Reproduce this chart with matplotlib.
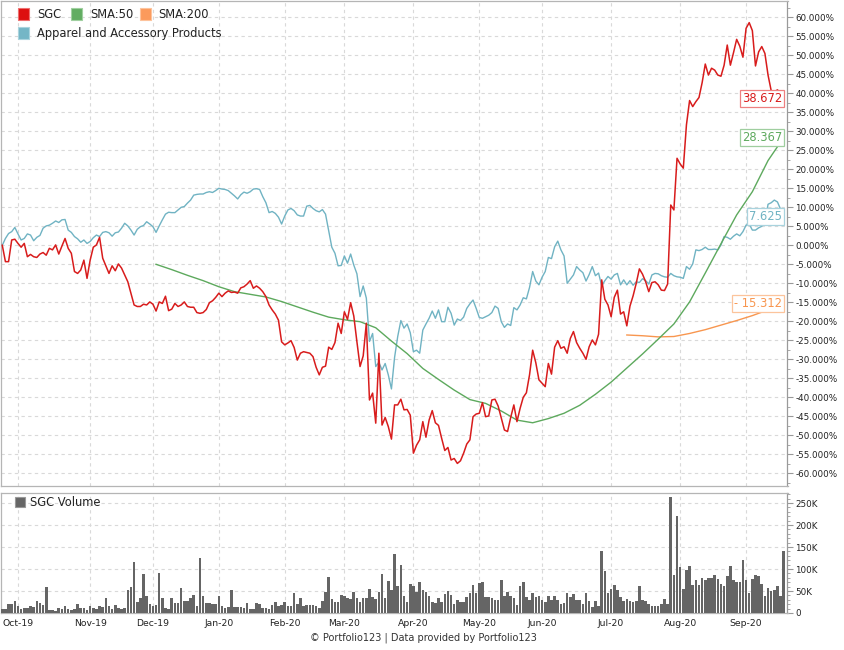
import matplotlib

matplotlib.use("Agg")
import matplotlib.pyplot as plt
import pandas as pd
from matplotlib.patches import Rectangle
from matplotlib.ticker import FuncFormatter, MultipleLocator

W, H = 845, 650

# trading days shown (Sep 24 2019 .. Sep 18 2020, NYSE holidays removed)
HOLIDAYS = ["2019-11-28", "2019-12-25", "2020-01-01", "2020-01-20", "2020-02-17",
            "2020-04-10", "2020-05-25", "2020-07-03", "2020-09-07"]

# SGC relative performance, % since start
sgc = [
    0.0, -4.3, -4.3, 1.4, 1.6, 0.5, -0.5, 0.5, -3.0, -2.4,
    -3.0, -3.2, -2.3, -1.9, -2.6, -0.8, -1.2, 0.1, -2.3, -0.2,
    1.8, -0.8, -2.1, -6.9, -7.4, -6.5, -3.9, -8.7, -3.9, -0.5,
    0.1, 2.1, -3.4, -5.4, -7.4, -5.4, -6.7, -4.9, -6.0, -7.8,
    -9.6, -12.6, -15.7, -16.1, -16.1, -15.5, -15.7, -14.9, -15.5, -17.3,
    -14.9, -15.3, -13.4, -17.2, -16.8, -15.3, -16.1, -15.7, -14.9, -16.1,
    -16.3, -16.3, -17.7, -17.9, -17.7, -16.9, -15.1, -14.6, -13.7, -12.6,
    -13.5, -12.6, -12.0, -12.4, -12.3, -12.6, -11.2, -10.9, -10.2, -9.3,
    -11.3, -10.7, -11.3, -12.2, -13.5, -15.7, -17.0, -18.1, -19.7, -25.4,
    -26.2, -25.7, -25.1, -26.9, -30.2, -28.4, -28.0, -28.2, -28.4, -29.3,
    -32.1, -34.1, -32.1, -31.8, -26.8, -27.4, -25.6, -20.5, -23.2, -17.5,
    -19.5, -15.1, -18.6, -25.4, -31.9, -29.1, -20.5, -40.7, -38.9, -46.8,
    -28.4, -47.3, -45.3, -47.7, -51.0, -42.0, -42.0, -40.5, -43.3, -43.2,
    -44.7, -54.7, -52.6, -51.2, -46.4, -50.5, -46.0, -43.5, -46.7, -47.4,
    -50.8, -54.0, -53.2, -56.5, -56.1, -57.4, -56.7, -54.7, -52.3, -51.2,
    -45.1, -44.4, -44.2, -41.4, -45.1, -44.9, -40.7, -40.5, -42.3, -45.5,
    -48.6, -49.0, -45.3, -42.0, -46.4, -42.9, -40.0, -38.8, -34.1, -27.6,
    -30.9, -35.4, -36.3, -37.2, -31.1, -33.9, -26.8, -25.1, -27.1, -26.7,
    -28.4, -24.5, -22.7, -25.6, -27.1, -28.4, -30.0, -26.7, -24.9, -26.2,
    -23.4, -9.1, -14.2, -15.7, -18.8, -13.7, -11.8, -18.1, -17.5, -21.2,
    -16.0, -13.3, -10.0, -6.2, -7.6, -9.6, -12.2, -9.8, -9.6, -10.4,
    -11.8, -11.9, -10.2, 10.6, 9.3, 22.9, 21.4, 20.3, 31.7, 38.1,
    36.5, 37.8, 38.9, 42.8, 47.7, 44.8, 46.6, 46.1, 44.8, 44.5,
    47.4, 52.7, 47.4, 50.7, 54.2, 52.4, 49.5, 57.1, 58.6, 56.5,
    47.2, 50.9, 52.3, 50.5, 44.8, 40.7, 40.4, 40.9, 40.0, 36.6,
]

# Apparel and Accessory Products industry, % since start
industry = [
    0.0, 1.8, 3.1, 3.6, 4.7, 3.0, 1.4, 1.8, 3.0, 2.7,
    1.2, 2.1, 2.6, 4.5, 5.1, 5.3, 5.8, 6.4, 6.0, 6.7,
    6.8, 4.0, 3.4, 2.3, 1.7, 0.8, 1.4, 0.5, 1.0, 2.0,
    2.7, 2.3, 3.4, 3.6, 3.3, 2.4, 3.3, 3.5, 4.5, 5.8,
    5.1, 4.0, 2.7, 4.2, 4.9, 5.2, 6.2, 5.6, 4.9, 3.4,
    5.1, 6.7, 8.2, 8.7, 8.6, 8.6, 9.3, 10.0, 10.2, 11.1,
    11.9, 13.2, 13.4, 13.5, 13.5, 13.9, 14.1, 13.9, 14.4, 15.0,
    14.8, 14.7, 14.4, 13.7, 13.0, 12.2, 13.3, 14.0, 13.7, 14.1,
    14.8, 14.9, 14.7, 12.8, 11.2, 8.6, 8.9, 8.4, 7.4, 5.6,
    7.7, 9.3, 9.7, 9.1, 8.0, 7.7, 7.7, 10.3, 10.5, 9.7,
    9.1, 8.8, 9.4, 8.2, 3.9, -0.5, -2.1, -5.4, -5.3, -2.8,
    -4.7, -2.3, -5.2, -7.5, -13.5, -10.7, -13.9, -25.3, -23.2, -31.9,
    -30.8, -32.8, -31.1, -34.1, -37.8, -29.5, -24.0, -19.8, -21.8, -20.7,
    -23.0, -28.0, -27.6, -28.4, -22.3, -20.7, -19.2, -17.3, -19.2, -17.0,
    -20.1, -20.1, -16.3, -17.9, -21.0, -19.4, -19.8, -18.9, -16.6, -15.4,
    -14.4, -16.6, -19.0, -19.2, -18.8, -18.4, -17.7, -16.0, -16.6, -20.1,
    -21.6, -20.7, -21.1, -16.4, -17.0, -15.7, -13.8, -14.1, -11.1, -6.9,
    -9.4, -10.4, -8.4, -6.9, -3.2, -3.5, -0.4, 1.1, -1.2, -2.8,
    -10.0, -8.9, -7.8, -5.6, -6.5, -7.2, -9.4, -7.7, -5.6, -8.0,
    -7.3, -10.7, -9.3, -8.2, -8.9, -7.8, -7.4, -10.4, -9.1, -10.4,
    -9.3, -10.5, -9.6, -9.8, -8.8, -9.3, -10.2, -7.8, -7.4, -7.5,
    -8.0, -8.3, -8.4, -7.4, -8.0, -8.3, -8.4, -8.7, -5.6, -6.3,
    -4.9, -1.2, -1.4, -1.1, -0.5, -1.1, -1.1, -1.0, -1.2, 0.1,
    2.3, 2.1, 1.6, 2.4, 3.0, 2.5, 3.6, 5.3, 5.6, 4.0,
    4.0, 4.6, 5.0, 6.0, 10.8, 11.2, 11.9, 11.4, 9.5, 7.6,
]

# moving averages, one value every 5th trading day ending on the last day
sma50 = [
    -5.0, -6.4, -7.9, -9.3, -10.9, -12.2, -12.9, -13.6, -14.8, -16.2,
    -17.6, -18.9, -19.6, -20.1, -21.7, -25.2, -28.5, -32.4, -35.3, -38.1,
    -40.6, -41.6, -43.6, -46.0, -46.7, -45.6, -44.2, -42.1, -39.2, -36.0,
    -32.3, -28.6, -24.7, -20.7, -14.9, -7.3, 0.4, 8.0, 14.1, 22.3,
    28.367,
]
sma200 = [-23.6, -23.8, -24.1, -24.0, -23.2, -22.2, -21.0, -19.8, -18.5, -17.0, -15.312]

# SGC daily volume, thousands of shares
volume = [
    9, 9, 20, 20, 27, 17, 10, 11, 11, 15,
    14, 27, 23, 18, 58, 6, 6, 4, 11, 9,
    15, 8, 6, 8, 20, 11, 11, 6, 15, 11,
    10, 17, 13, 34, 15, 8, 19, 11, 9, 11,
    53, 59, 115, 25, 33, 89, 38, 21, 17, 19,
    91, 33, 12, 10, 33, 23, 23, 57, 28, 27,
    34, 42, 17, 125, 39, 23, 23, 20, 20, 38,
    17, 11, 14, 53, 14, 14, 13, 11, 23, 9,
    9, 23, 20, 11, 11, 8, 19, 25, 17, 18,
    25, 17, 15, 46, 20, 34, 15, 18, 18, 18,
    15, 12, 28, 48, 82, 32, 25, 25, 42, 38,
    34, 32, 48, 34, 24, 34, 34, 55, 36, 32,
    48, 89, 33, 72, 52, 134, 61, 109, 38, 26,
    66, 61, 47, 71, 53, 47, 38, 24, 23, 33,
    24, 43, 49, 42, 20, 30, 26, 25, 36, 45,
    63, 45, 68, 70, 36, 36, 34, 30, 29, 74,
    39, 47, 39, 34, 18, 61, 70, 36, 30, 45,
    36, 39, 30, 24, 38, 30, 39, 29, 21, 23,
    45, 36, 43, 30, 29, 21, 45, 28, 14, 27,
    17, 142, 96, 45, 55, 63, 53, 36, 27, 32,
    27, 25, 28, 62, 29, 27, 21, 17, 15, 15,
    21, 32, 21, 264, 87, 221, 105, 55, 97, 106,
    64, 74, 64, 80, 74, 80, 80, 87, 77, 67,
    61, 83, 106, 74, 70, 70, 120, 76, 45, 77,
    87, 83, 67, 38, 57, 49, 52, 61, 39, 140,
]

last_labels = ["38.672", "28.367", "- 15.312", "7.625"]
last_values = [38.672, 28.367, -15.312, 7.625]

C_SGC = "#d81c1c"
C_SMA50 = "#5da95d"
C_SMA200 = "#f8964f"
C_IND = "#70b3c3"
C_VOL = "#656565"
GRID = "#d9d9d9"

dates = pd.bdate_range("2019-09-24", "2020-09-18")
dates = dates[~dates.isin(pd.to_datetime(HOLIDAYS))]
x = list(range(len(dates)))
n = len(x)
x50 = list(range(n - 1 - 5 * (len(sma50) - 1), n, 5))
x200 = list(range(n - 1 - 5 * (len(sma200) - 1), n, 5))

# first trading day of each month -> x tick
month_idx = [i for i in range(1, n) if dates[i].month != dates[i - 1].month]
month_lbl = [dates[i].strftime("%b-%y") for i in month_idx]


def px_box(x0, y0, x1, y1):
    return [x0 / W, 1 - y1 / H, (x1 - x0) / W, (y1 - y0) / H]


fig = plt.figure(figsize=(W / 100, H / 100), dpi=100)
ax = fig.add_axes(px_box(1, 1, 787.5, 486))
axv = fig.add_axes(px_box(1, 492.5, 787.5, 613))

xlim = (-0.41, 250.2)

# --- price panel
ax.plot(x, industry, color=C_IND, lw=1.0, zorder=3)
ax.plot(x200, sma200, color=C_SMA200, lw=1.0, zorder=3)
ax.plot(x50, sma50, color=C_SMA50, lw=1.0, zorder=3)
ax.plot(x, sgc, color=C_SGC, lw=1.1, zorder=4)
ax.set_xlim(*xlim)
ax.set_ylim(-63.34, 64.29)

# --- volume panel
axv.bar(x, volume, width=0.82, color=C_VOL, lw=0, zorder=3)
axv.set_xlim(*xlim)
axv.set_ylim(0, 274)

for a in (ax, axv):
    a.set_axisbelow(True)
    a.grid(True, color=GRID, lw=0.8, ls=(0, (3, 3)))
    a.set_xticks(month_idx)
    a.yaxis.tick_right()
    a.tick_params(axis="y", which="major", length=4, width=0.8, color="#999999",
                  labelsize=6.3, labelcolor="#222222", pad=1.5)
    a.tick_params(axis="y", which="minor", length=2, width=0.6, color="#999999")
    for side, sp in a.spines.items():
        sp.set_color("#b5b5b5")
        sp.set_linewidth(0.9)
    a.spines["right"].set_color("#9a9a9a")

ax.tick_params(axis="x", length=0, labelbottom=False)
axv.tick_params(axis="x", length=0, labelsize=6.7, labelcolor="#222222", pad=4)
axv.set_xticklabels(month_lbl)

ax.yaxis.set_major_locator(MultipleLocator(5))
ax.yaxis.set_minor_locator(MultipleLocator(2.5))
ax.yaxis.set_major_formatter(FuncFormatter(lambda v, p: f"{v:.3f}%"))
axv.yaxis.set_major_locator(MultipleLocator(50))
axv.yaxis.set_minor_locator(MultipleLocator(10))
axv.yaxis.set_major_formatter(FuncFormatter(lambda v, p: "0" if v == 0 else f"{v:.0f}K"))

# last-value tags at the right edge
tag_colors = [C_SGC, C_SMA50, C_SMA200, C_IND]
tag_edges = ["#ee8080", "#9fce9f", "#fcc49c", "#a9d3de"]
for txt, val, col, edge in zip(last_labels, last_values, tag_colors, tag_edges):
    ax.text(0.993, val, txt, transform=ax.get_yaxis_transform(), ha="right", va="center",
            color=col, fontsize=8.3, zorder=6,
            bbox=dict(boxstyle="square,pad=0.18", fc="white", ec=edge, lw=0.9))


# legends drawn as square swatches + text (pixel positions)
def legend_item(x0, yc, size, gap, color, edge, label):
    fig.add_artist(Rectangle((x0 / W, 1 - (yc + size / 2) / H), size / W, size / H,
                             transform=fig.transFigure, facecolor=color,
                             edgecolor=edge, lw=0.8))
    fig.text((x0 + gap) / W, 1 - yc / H, label, ha="left", va="center",
             fontsize=8.3, color="#222222")


legend_item(18, 14, 11, 19, "#dd1010", "#ee7070", "SGC")
legend_item(71, 14, 11, 19, "#62ad62", "#a0d0a0", "SMA:50")
legend_item(140, 14, 11, 18, "#fb9a5c", "#fdc39c", "SMA:200")
legend_item(18, 33, 11, 19, "#74b6c6", "#aad4de", "Apparel and Accessory Products")
legend_item(15, 502, 10, 15, "#666666", "#999999", "SGC Volume")

fig.text(423 / W, 1 - 638 / H, "© Portfolio123 | Data provided by Portfolio123",
         ha="center", va="center", fontsize=7, color="#333333")

fig.savefig("out.png", dpi=100)
